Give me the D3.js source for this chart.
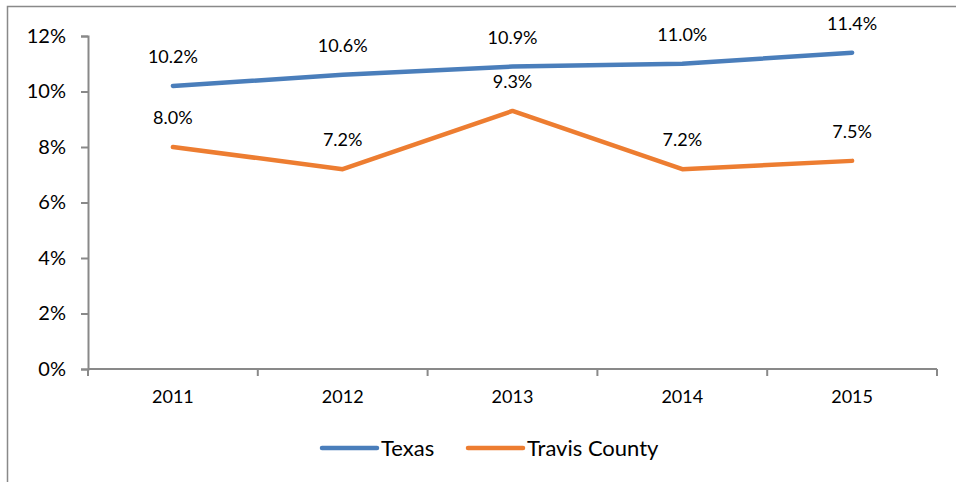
<!DOCTYPE html>
<html>
<head>
<meta charset="utf-8">
<script src="https://cdn.jsdelivr.net/npm/d3@7/dist/d3.min.js"></script>
<style>
  html, body { margin: 0; padding: 0; background: #fff; }
  svg { display: block; }
  text { font-family: Lato, "Open Sans", sans-serif; fill: #000; }
</style>
</head>
<body>
<svg id="chart" width="956" height="482"></svg>
<script>
// Uninsured rate by year
const years = ["2011", "2012", "2013", "2014", "2015"];
const texas = [10.2, 10.6, 10.9, 11.0, 11.4];
const travisCounty = [8.0, 7.2, 9.3, 7.2, 7.5];
const yTicks = [0, 2, 4, 6, 8, 10, 12];
const seriesNames = ["Texas", "Travis County"];
const seriesColors = ["#4a7ebb", "#ed7d31"];

const svg = d3.select("#chart");
const W = 956, H = 482;
const margin = { left: 88, right: 19, top: 36, bottom: 113 };

// outer frame
svg.append("rect")
  .attr("x", 7.5).attr("y", 6.5)
  .attr("width", W + 10).attr("height", H + 10)
  .attr("fill", "none").attr("stroke", "#898989").attr("stroke-width", 1.5);

const x = d3.scaleBand().domain(years).range([margin.left, W - margin.right]);
const y = d3.scaleLinear().domain([0, 12]).range([H - margin.bottom, margin.top]);

const axisColor = "#898989";

// y axis
const yAxis = svg.append("g")
  .attr("transform", `translate(${margin.left},0)`)
  .call(d3.axisLeft(y).tickValues(yTicks).tickFormat(d => d + "%").tickSize(7).tickPadding(15));
yAxis.select(".domain").attr("stroke", axisColor).attr("stroke-width", 2);
yAxis.selectAll(".tick line").attr("stroke", axisColor).attr("stroke-width", 2);
yAxis.selectAll(".tick text").attr("font-size", 20).attr("font-family", "Lato, sans-serif").attr("fill", "#000");

// x axis: tick marks on the category boundaries, labels centred in each band
const xAxisG = svg.append("g").attr("transform", `translate(0,${y(0)})`);
xAxisG.append("line")
  .attr("x1", margin.left).attr("x2", W - margin.right)
  .attr("stroke", axisColor).attr("stroke-width", 2);
const boundaries = years.map(d => x(d)).concat([x(years[years.length - 1]) + x.bandwidth()]);
xAxisG.selectAll(".bound").data(boundaries).join("line")
  .attr("class", "bound")
  .attr("x1", d => d).attr("x2", d => d)
  .attr("y1", 0).attr("y2", 7)
  .attr("stroke", axisColor).attr("stroke-width", 2);
xAxisG.selectAll(".xlabel").data(years).join("text")
  .attr("class", "xlabel")
  .attr("x", d => x(d) + x.bandwidth() / 2)
  .attr("y", 34)
  .attr("text-anchor", "middle")
  .attr("font-size", 18)
  .text(d => d);

// series lines and value labels
const series = [texas, travisCounty];
const line = d3.line()
  .x((d, i) => x(years[i]) + x.bandwidth() / 2)
  .y(d => y(d));

series.forEach((vals, s) => {
  svg.append("path")
    .datum(vals)
    .attr("d", line)
    .attr("fill", "none")
    .attr("stroke", seriesColors[s])
    .attr("stroke-width", 4.5)
    .attr("stroke-linecap", "round")
    .attr("stroke-linejoin", "round");

  svg.selectAll(".lbl" + s).data(vals).join("text")
    .attr("class", "lbl" + s)
    .attr("x", (d, i) => x(years[i]) + x.bandwidth() / 2)
    .attr("y", d => y(d) - 23)
    .attr("text-anchor", "middle")
    .attr("font-size", 18)
    .text(d => d.toFixed(1) + "%");
});

// legend
const legendY = 448;
const legendItems = [
  { x0: 322, name: seriesNames[0], color: seriesColors[0] },
  { x0: 468, name: seriesNames[1], color: seriesColors[1] }
];
legendItems.forEach(it => {
  svg.append("line")
    .attr("x1", it.x0).attr("x2", it.x0 + 55)
    .attr("y1", legendY).attr("y2", legendY)
    .attr("stroke", it.color).attr("stroke-width", 4.5)
    .attr("stroke-linecap", "round");
  svg.append("text")
    .attr("x", it.x0 + 59)
    .attr("y", legendY + 8)
    .attr("font-size", 22)
    .text(it.name);
});
</script>
</body>
</html>
